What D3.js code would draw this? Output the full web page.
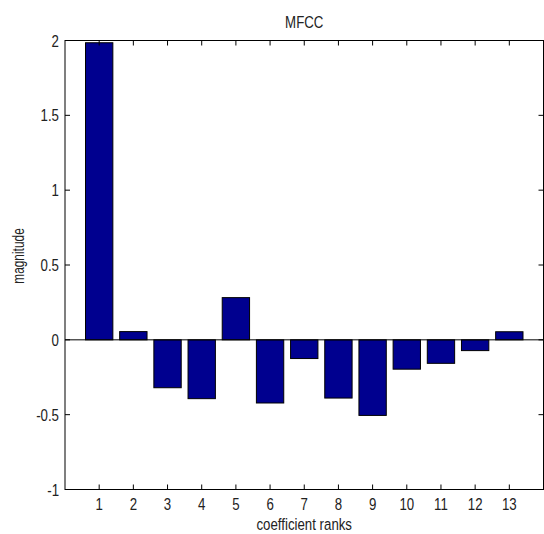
<!DOCTYPE html>
<html>
<head>
  <meta charset="utf-8">
  <title>MFCC</title>
  <style>
    body { margin: 0; background: #fff; }
    text { font-family: "Liberation Sans", Arial, sans-serif; fill: #222; }
  </style>
</head>
<body>
  <svg width="544" height="534"></svg>
  <script src="https://d3js.org/d3.v7.min.js"></script>
  <script>
  // data
  var ranks = [1, 2, 3, 4, 5, 6, 7, 8, 9, 10, 11, 12, 13];
  var magnitudes = [1.985, 0.055, -0.32, -0.393, 0.282, -0.422, -0.125, -0.389, -0.505, -0.196, -0.157, -0.072, 0.054];
  var yTicks = [-1, -0.5, 0, 0.5, 1, 1.5, 2];
  var chartTitle = 'MFCC';
  var xTitle = 'coefficient ranks';
  var yTitle = 'magnitude';

  // plot box (note: "top" is reserved on window, so use other names)
  var boxL = 65, boxR = 543.5, boxT = 40.5, boxB = 489.5;
  var fs = 17, squeeze = 0.78, tickLen = 5;

  var svg = d3.select('svg');

  var x = d3.scaleLinear().domain([0, 14]).range([boxL, boxR]);
  var y = d3.scaleLinear().domain([-1, 2]).range([boxB, boxT]);
  var barW = (x(1) - x(0)) * 0.8;

  // bars
  svg.selectAll('.bar')
    .data(ranks)
    .enter()
    .append('rect')
    .attr('class', 'bar')
    .attr('x', function(d) { return x(d) - barW / 2; })
    .attr('y', function(d, i) { return y(Math.max(0, magnitudes[i])); })
    .attr('width', barW)
    .attr('height', function(d, i) { return Math.abs(y(magnitudes[i]) - y(0)); })
    .attr('fill', '#00008f')
    .attr('stroke', '#000')
    .attr('stroke-width', 1);

  // baseline at zero
  svg.append('line')
    .attr('x1', boxL).attr('x2', boxR)
    .attr('y1', y(0)).attr('y2', y(0))
    .attr('stroke', '#000');

  // box
  svg.append('rect')
    .attr('x', boxL).attr('y', boxT)
    .attr('width', boxR - boxL).attr('height', boxB - boxT)
    .attr('fill', 'none').attr('stroke', '#000');

  // inward ticks
  var tg = svg.append('g').attr('stroke', '#000');
  ranks.forEach(function(r) {
    tg.append('line').attr('x1', x(r)).attr('x2', x(r)).attr('y1', boxB).attr('y2', boxB - tickLen);
    tg.append('line').attr('x1', x(r)).attr('x2', x(r)).attr('y1', boxT).attr('y2', boxT + tickLen);
  });
  yTicks.forEach(function(v) {
    tg.append('line').attr('x1', boxL).attr('x2', boxL + tickLen).attr('y1', y(v)).attr('y2', y(v));
    tg.append('line').attr('x1', boxR).attr('x2', boxR - tickLen).attr('y1', y(v)).attr('y2', y(v));
  });

  function label(px, py, str, anchor, rot) {
    svg.append('text')
      .attr('transform', 'translate(' + px + ',' + py + ')' + (rot ? ' rotate(' + rot + ')' : '') + ' scale(' + (rot ? 0.7 : squeeze) + ',1)')
      .attr('text-anchor', anchor)
      .style('font-size', fs + 'px')
      .text(str);
  }

  ranks.forEach(function(r) { label(x(r), 510, r, 'middle'); });
  yTicks.forEach(function(v) { label(boxL - 6, y(v) + 6, String(v), 'end'); });

  label((boxL + boxR) / 2, 28, chartTitle, 'middle');
  label((boxL + boxR) / 2, 530, xTitle, 'middle');
  label(24, 256, yTitle, 'middle', -90);
  </script>
</body>
</html>
